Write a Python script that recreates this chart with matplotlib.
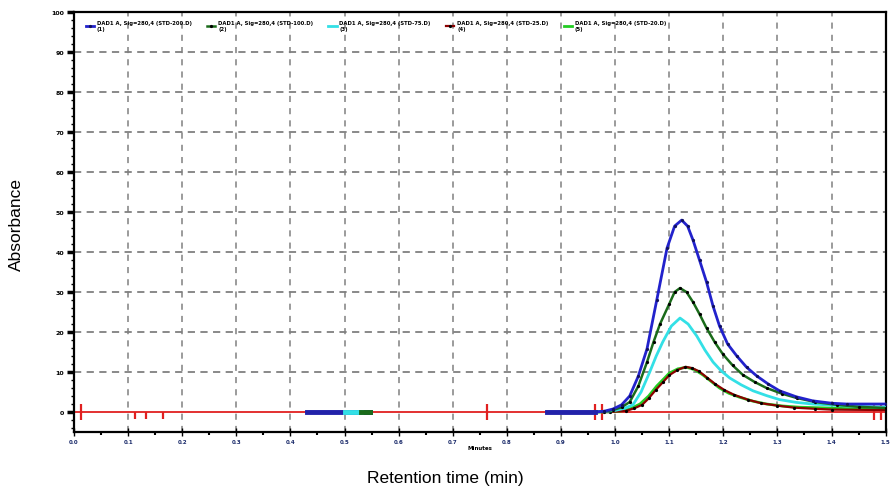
import numpy as np
import matplotlib.pyplot as plt
import matplotlib.ticker as mticker

# ── Data (grid units) ────────────────────────────────────────

x_ticks = np.arange(0, 16, 1)
x_tick_labels = ["0.0", "0.1", "0.2", "0.3", "0.4", "0.5", "0.6", "0.7",
                 "0.8", "0.9", "1.0", "1.1", "1.2", "1.3", "1.4", "1.5"]
y_ticks = np.arange(0, 101, 10)
y_tick_labels = ["0", "10", "20", "30", "40", "50", "60", "70", "80", "90", "100"]

legend_labels = [
    "DAD1 A, Sig=280,4 (STD-200.D)\n(1)",
    "DAD1 A, Sig=280,4 (STD-100.D)\n(2)",
    "DAD1 A, Sig=280,4 (STD-75.D)\n(3)",
    "DAD1 A, Sig=280,4 (STD-25.D)\n(4)",
    "DAD1 A, Sig=280,4 (STD-20.D)\n(5)",
]

# blue (highest)
t_blue = [4.30, 5.47, np.nan, 8.74, 9.62, 9.80, 9.96, 10.12, 10.27, 10.43,
          10.59, 10.77, 10.96, 11.10, 11.23, 11.34, 11.44, 11.56, 11.69,
          11.81, 11.93, 12.08, 12.25, 12.43, 12.62, 12.83, 13.04, 13.35,
          13.65, 14.0, 14.28, 15.0]
v_blue = [0, 0, np.nan, 0, 0, 0.2, 0.75, 1.8, 4, 9, 15.8, 28, 41, 46.5, 48,
          46.5, 43, 38, 32.5, 26.5, 21.5, 17, 14, 11.2, 9, 7, 5.3, 3.8, 2.8,
          2.2, 2.0, 2.0]

# dark green
t_dgreen = [5.30, 5.47, np.nan, 9.62, 9.80, 9.96, 10.12, 10.27, 10.43,
            10.59, 10.71, 10.83, 11.0, 11.1, 11.2, 11.32, 11.44, 11.56,
            11.69, 11.84, 11.99, 12.17, 12.36, 12.58, 12.8, 13.08, 13.36,
            13.7, 14.1, 14.5, 15.0]
v_dgreen = [0, 0, np.nan, 0, 0.1, 0.5, 1.2, 2.5, 6.5, 12.5, 17.5, 22, 27,
            30, 31, 30, 27.5, 24.5, 21, 17.5, 14.5, 11.7, 9.3, 7.5, 6, 4.6,
            3.5, 2.5, 1.8, 1.3, 1.0]

# cyan
t_cyan = [5.00, 5.30, np.nan, 9.62, 9.80, 10.0, 10.17, 10.33, 10.48, 10.64,
          10.76, 10.88, 11.04, 11.2, 11.35, 11.51, 11.66, 11.81, 11.96,
          12.12, 12.33, 12.55, 12.8, 13.04, 13.35, 13.65, 14.3, 15.0]
v_cyan = [0, 0, np.nan, 0, 0.1, 0.4, 0.9, 1.8, 5, 10, 14, 17.5, 21.5, 23.5,
          22, 19, 15.5, 12.5, 10.3, 8.5, 6.8, 5.3, 4.1, 3.1, 2.4, 2.0, 1.5,
          1.2]

# dark red
t_dred = [9.62, 9.90, 10.2, 10.35, 10.5, 10.62, 10.75, 10.88, 11.0, 11.15,
          11.3, 11.42, 11.55, 11.7, 11.85, 12.02, 12.2, 12.45, 12.7, 13.0,
          13.3, 13.7, 14.0, 15.0]
v_dred = [0, 0, 0.3, 0.9, 1.8, 3.4, 5.5, 7.4, 9.2, 10.5, 11.3, 11.0, 10.2,
          8.6, 7.0, 5.5, 4.3, 3.1, 2.2, 1.6, 1.1, 0.8, 0.6, 0.5]

# light green
t_lgreen = [9.62, 9.90, 10.09, 10.28, 10.46, 10.62, 10.77, 10.9, 11.0,
            11.16, 11.32, 11.47, 11.62, 11.78, 11.93, 12.1, 12.3, 12.55,
            12.8, 13.1, 13.41, 14.2, 15.0]
v_lgreen = [0, 0.05, 0.2, 0.8, 2.0, 4, 6.5, 8.3, 9.7, 10.8, 11.2, 10.6, 9.3,
            7.6, 6.0, 4.7, 3.7, 2.7, 2.0, 1.5, 1.2, 0.9, 0.8]

# integration marks on the baseline
mark_tall = [0.13, 7.63, 9.62, 9.76, 14.78, 14.91]
mark_short = [1.13, 1.33, 1.64]

# ── Plot ─────────────────────────────────────────────────────

fig = plt.figure(figsize=(8.91, 4.89), dpi=100)
ax = fig.add_axes([0.083, 0.1145, 0.911, 0.8585])

ax.set_xlim(0, 15)
ax.set_ylim(-5, 100)

for v in y_ticks[1:-1]:
    ax.axhline(v, color="#808080", lw=1.3, ls=(0, (4, 3)), zorder=1)
for t in x_ticks[1:-1]:
    ax.axvline(t, color="#808080", lw=1.1, ls=(0, (4, 4)), zorder=1)

ax.axhline(0, color="#e02020", lw=1.3, zorder=2)
ax.vlines(mark_tall, -2.0, 2.0, color="#e02020", lw=1.6, zorder=3)
ax.vlines(mark_short, -1.8, 0, color="#e02020", lw=1.6, zorder=3)

ax.plot(t_lgreen, v_lgreen, color="#22cc22", lw=2.0, zorder=4,
        label=legend_labels[4])
ax.plot(t_dred, v_dred, color="#8b0000", lw=1.6, zorder=5,
        marker="o", ms=1.3, mfc="black", mec="black",
        label=legend_labels[3])
ax.plot(t_cyan, v_cyan, color="#33e0e6", lw=2.0, zorder=6,
        label=legend_labels[2])
ax.plot(t_dgreen, v_dgreen, color="#1a6b1a", lw=1.8, zorder=7,
        marker="o", ms=1.3, mfc="black", mec="black",
        label=legend_labels[1])
ax.plot(t_blue, v_blue, color="#2222cc", lw=2.0, zorder=8,
        marker="o", ms=1.3, mfc="#101060", mec="#101060",
        label=legend_labels[0])

# thick flat baseline pieces
ax.plot(t_blue[:2], v_blue[:2], color="#2222aa", lw=3.5, zorder=8)
ax.plot(t_blue[3:5], v_blue[3:5], color="#2222aa", lw=3.5, zorder=8)
ax.plot(t_cyan[:2], v_cyan[:2], color="#33e0e6", lw=3.5, zorder=9)
ax.plot(t_dgreen[:2], v_dgreen[:2], color="#1a6b1a", lw=3.5, zorder=9)

handles, labels = ax.get_legend_handles_labels()
order = [4, 3, 2, 1, 0]
ax.legend([handles[i] for i in order], [labels[i] for i in order],
          loc="lower left", bbox_to_anchor=(0.012, 0.95, 0.72, 0.045),
          mode="expand", ncol=5, frameon=False,
          handlelength=1.6, handletextpad=0.5, borderaxespad=0,
          prop={"weight": "bold", "size": 3.8})

ax.set_xticks(x_ticks)
ax.set_xticklabels(x_tick_labels, fontsize=4, fontweight="bold", color="#1a2a6a")
ax.xaxis.set_minor_locator(mticker.MultipleLocator(0.5))
ax.set_yticks(y_ticks)
ax.set_yticklabels(y_tick_labels, fontsize=4.5, fontweight="bold")
ax.yaxis.set_minor_locator(mticker.MultipleLocator(2))
ax.tick_params(axis="x", which="major", direction="inout", length=6, width=1, pad=2)
ax.tick_params(axis="x", which="minor", direction="out", length=2, width=1.5)
ax.tick_params(axis="y", which="major", direction="out", length=5, width=2.5, pad=2)
ax.tick_params(axis="y", which="minor", direction="out", length=2, width=1)
ax.set_xlabel("Minutes", fontsize=4, fontweight="bold", labelpad=1)

for side in ["left", "bottom", "top", "right"]:
    ax.spines[side].set_linewidth(1.6)

fig.text(0.019, 0.54, "Absorbance", rotation=90, ha="center", va="center",
         fontsize=12.5, family="Liberation Sans")
fig.text(0.50, 0.022, "Retention time (min)", ha="center", va="center",
         fontsize=12.5, family="Liberation Sans")

fig.savefig("out.png", dpi=100)
